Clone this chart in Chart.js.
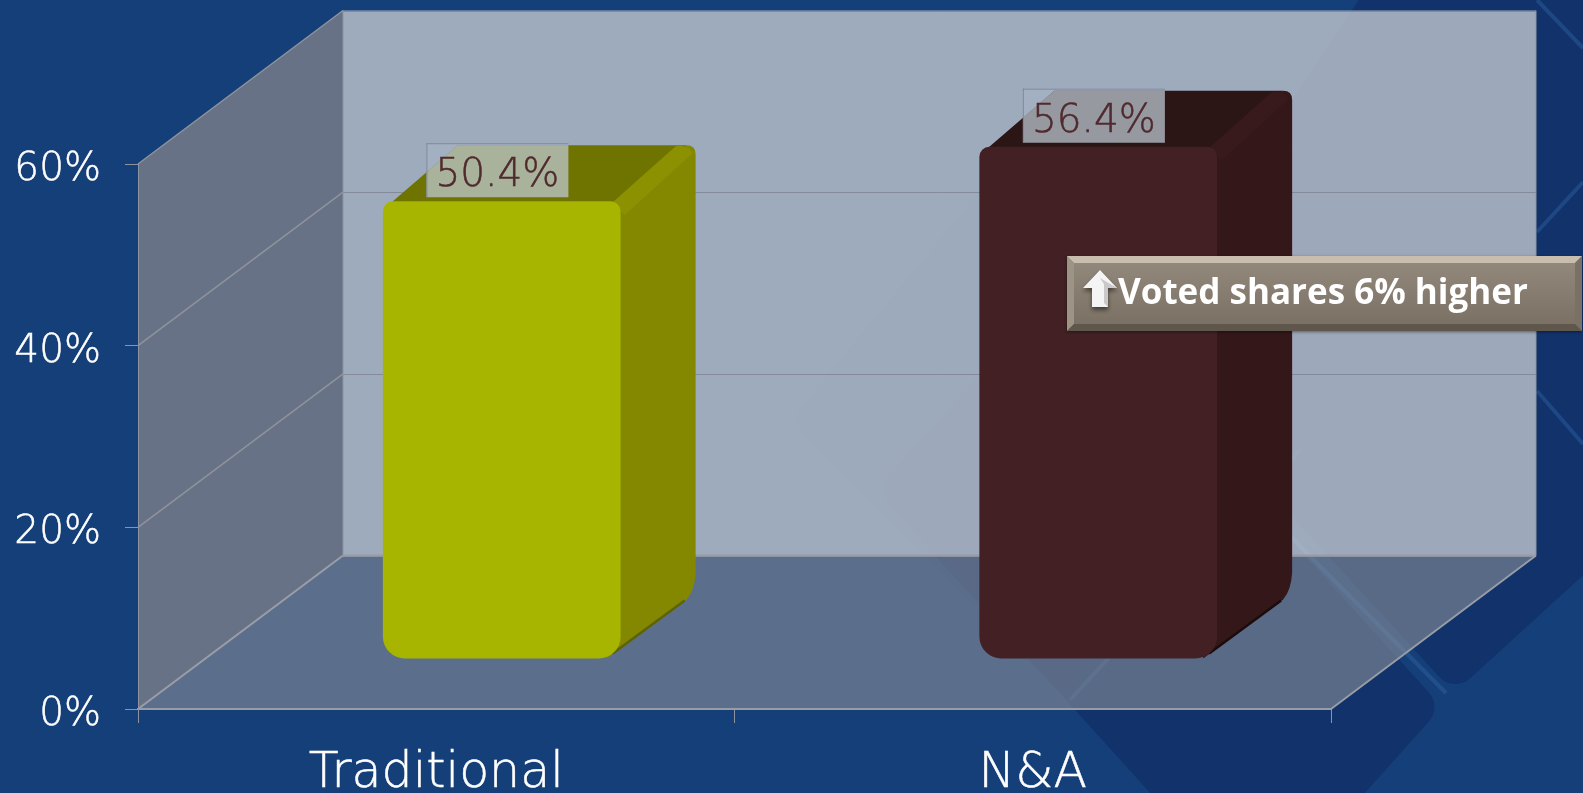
<!DOCTYPE html>
<html>
<head>
<meta charset="utf-8">
<title>Voted shares</title>
<script src="https://cdn.jsdelivr.net/npm/chart.js@4"></script>
<style>
    html, body { margin: 0; padding: 0; background: #153f78; overflow: hidden; }
    #wrap { width: 1583px; height: 793px; }
</style>
</head>
<body>
<div id="wrap"><canvas id="sharesChart" width="1583" height="793"></canvas></div>
<script>
const categories = ['Traditional', 'N&A'];
const votedShares = [50.4, 56.4];
const axisMax = 60;
const axisStep = 20;
const calloutText = 'Voted shares 6% higher';

const frontColors = ['#a7b400', '#422024'];
const sideColors = ['#848800', '#331719'];
const topColors = ['#6f7300', '#2b1515'];
const ridgeColors = ['#8b9100', '#38191c'];
const edgeShadows = ['#5f6200', '#1c0c0d'];

const LABEL_FONT = '"DejaVu Sans"';
const wallDepth = { x: 205, y: -153.5 };   // how far the back wall sits behind the axes
const boxOffset = { x: 65.5, y: -50 };     // bars stand a little way in from the front edge
const boxDepth = { x: 75, y: -56 };

// Traces a polygon with rounded corners
function roundPoly(ctx, pts, r) {
    const n = pts.length;
    ctx.beginPath();
    ctx.moveTo((pts[n - 1][0] + pts[0][0]) / 2, (pts[n - 1][1] + pts[0][1]) / 2);
    for (let i = 0; i < n; i++) {
        const p = pts[i], q = pts[(i + 1) % n];
        ctx.arcTo(p[0], p[1], q[0], q[1], r);
    }
    ctx.closePath();
}

function line(ctx, x1, y1, x2, y2) {
    ctx.beginPath();
    ctx.moveTo(x1, y1);
    ctx.lineTo(x2, y2);
    ctx.stroke();
}

function topFace(ctx, L, R, T) {
    ctx.beginPath();
    ctx.moveTo(L + 3, T + 6);
    ctx.lineTo(L + boxDepth.x, T + boxDepth.y);
    ctx.lineTo(R + boxDepth.x - 9, T + boxDepth.y);
    ctx.lineTo(R, T + 2);
    ctx.closePath();
}

// Slide background pattern plus the walls and floor of the chart box
const boxWalls = {
    id: 'boxWalls',
    beforeDraw(chart) {
        const { ctx, width, height, scales } = chart;
        const { x: xs, y: ys } = scales;
        ctx.save();
        ctx.fillStyle = '#153f78';
        ctx.fillRect(0, 0, width, height);

        ctx.fillStyle = 'rgba(17, 48, 105, 0.85)';
        roundPoly(ctx, [[876, 490], [1258, 912], [1442, 707], [1060, 285]], 22); ctx.fill();
        roundPoly(ctx, [[1454, 693], [1830, 350], [1500, -210], [1130, 340]], 22); ctx.fill();
        ctx.fillStyle = 'rgba(17, 48, 105, 0.35)';
        roundPoly(ctx, [[1060, 694], [1310, 420], [1030, 130], [790, 420]], 20); ctx.fill();

        ctx.lineWidth = 4;
        ctx.strokeStyle = 'rgba(50, 105, 170, 0.4)';
        line(ctx, 1135, 380, 1446, 693);
        line(ctx, 1537, 0, 1583, 48);
        line(ctx, 1537, 232, 1583, 182);
        line(ctx, 1537, 391, 1583, 444);
        ctx.strokeStyle = 'rgba(50, 105, 170, 0.3)';
        line(ctx, 1070, 700, 1300, 450);

        const left = xs.left, right = xs.right;
        const y0 = ys.getPixelForValue(0), yMax = ys.getPixelForValue(axisMax);
        const dx = wallDepth.x, dy = wallDepth.y;

        // back wall
        ctx.fillStyle = 'rgba(192, 199, 206, 0.8)';
        ctx.fillRect(left + dx, yMax + dy, right - left, y0 - yMax);
        // floor
        ctx.fillStyle = 'rgba(139, 143, 153, 0.6)';
        ctx.beginPath();
        ctx.moveTo(left, y0);
        ctx.lineTo(right, y0);
        ctx.lineTo(right + dx, y0 + dy);
        ctx.lineTo(left + dx, y0 + dy);
        ctx.closePath();
        ctx.fill();
        // side wall
        ctx.fillStyle = 'rgba(138, 137, 139, 0.7)';
        ctx.beginPath();
        ctx.moveTo(left, y0);
        ctx.lineTo(left, yMax);
        ctx.lineTo(left + dx, yMax + dy);
        ctx.lineTo(left + dx, y0 + dy);
        ctx.closePath();
        ctx.fill();

        // grid lines run along the side wall and across the back wall
        ys.ticks.forEach(t => {
            const y = ys.getPixelForValue(t.value);
            ctx.strokeStyle = '#8f939b';
            ctx.lineWidth = 1.5;
            line(ctx, left, y, left + dx, y + dy);
            ctx.strokeStyle = '#838a9a';
            ctx.lineWidth = 1;
            const by = Math.round(y + dy) + 0.5;
            line(ctx, left + dx, by, right + dx, by);
        });
        ctx.strokeStyle = '#8d93a0';
        ctx.lineWidth = 1;
        line(ctx, left + dx, yMax + dy, left + dx, y0 + dy);
        line(ctx, right + dx, yMax + dy, right + dx, y0 + dy);
        ctx.lineWidth = 2;
        ctx.strokeStyle = '#979ca6';
        line(ctx, left, y0, left + dx, y0 + dy);
        line(ctx, right, y0, right + dx, y0 + dy);
        line(ctx, left + dx, y0 + dy, right + dx, y0 + dy);
        ctx.restore();
    }
};

// Side and top faces of each bar; the front face is the native bar, moved in from the edge
const barDepth = {
    id: 'barDepth',
    beforeDatasetsDraw(chart) {
        const { ctx } = chart;
        const dx = boxDepth.x, dy = boxDepth.y;
        ctx.save();
        ctx.translate(boxOffset.x, boxOffset.y);
        chart.getDatasetMeta(0).data.forEach((bar, i) => {
            const L = bar.x - bar.width / 2, R = bar.x + bar.width / 2;
            const T = bar.y, B = bar.base;

            // silhouette of the box behind the front face
            ctx.fillStyle = sideColors[i];
            ctx.beginPath();
            ctx.moveTo(R - 14, B);
            ctx.lineTo(R + dx - 9, B - 59);
            ctx.quadraticCurveTo(R + dx - 1, B - 68, R + dx, B - 86);
            ctx.lineTo(R + dx, T + dy + 9);
            ctx.quadraticCurveTo(R + dx, T + dy, R + dx - 9, T + dy);
            ctx.lineTo(R - 10, T);
            ctx.closePath();
            ctx.fill();

            // darker lip along the lower edge
            ctx.strokeStyle = edgeShadows[i];
            ctx.lineWidth = 2.5;
            line(ctx, R - 8, B - 5, R + dx - 11, B - 58);

            ctx.fillStyle = topColors[i];
            topFace(ctx, L, R, T);
            ctx.fill();

            // soft ridge where the top meets the side
            ctx.fillStyle = ridgeColors[i];
            ctx.beginPath();
            ctx.moveTo(R - 8, T + 1);
            ctx.lineTo(R + dx - 20, T + dy + 1);
            ctx.quadraticCurveTo(R + dx - 8, T + dy - 1, R + dx - 3, T + dy + 8);
            ctx.lineTo(R + 4, T + 14);
            ctx.closePath();
            ctx.fill();
        });
    },
    afterDatasetsDraw(chart) {
        const { ctx } = chart;
        ctx.restore();

        // value labels sit on translucent plates; the plate only shows up over the bar top
        ctx.save();
        chart.getDatasetMeta(0).data.forEach((bar, i) => {
            const L = bar.x + boxOffset.x - bar.width / 2, R = L + bar.width;
            const T = bar.y + boxOffset.y;
            const lx = L + 43.5, ly = T - 58;

            ctx.fillStyle = 'rgba(205, 212, 222, 0.12)';
            ctx.fillRect(lx, ly, 142, 54);

            ctx.save();
            ctx.beginPath();
            ctx.rect(lx, ly, 142, 54);
            ctx.clip();
            ctx.fillStyle = 'rgba(190, 200, 210, 0.7)';
            topFace(ctx, L, R, T);
            ctx.fill();
            ctx.restore();

            ctx.strokeStyle = 'rgba(120, 130, 145, 0.8)';
            ctx.lineWidth = 1;
            line(ctx, lx, ly + 0.5, lx + 142, ly + 0.5);
            line(ctx, lx + 0.5, ly, lx + 0.5, ly + 54);

            ctx.fillStyle = '#4f2a2e';
            ctx.strokeStyle = '#4f2a2e';
            ctx.lineWidth = 0.5;
            ctx.font = '200 39px ' + LABEL_FONT;
            ctx.textAlign = 'center';
            ctx.textBaseline = 'middle';
            const label = votedShares[i].toFixed(1) + '%';
            ctx.fillText(label, lx + 71, ly + 33);
            ctx.strokeText(label, lx + 71, ly + 33);
        });
        ctx.restore();
    }
};

// Bevelled callout with its arrow
const callout = {
    id: 'callout',
    afterDraw(chart) {
        const { ctx } = chart;
        const x = 1067, y = 256, w = 515, h = 75, b = 7;
        ctx.save();
        ctx.shadowColor = 'rgba(0, 0, 0, 0.45)';
        ctx.shadowBlur = 3;
        ctx.shadowOffsetY = 1;
        const g = ctx.createLinearGradient(0, y, 0, y + h);
        g.addColorStop(0, '#948a7d');
        g.addColorStop(1, '#796e62');
        ctx.fillStyle = g;
        ctx.fillRect(x, y, w, h);
        ctx.shadowColor = 'transparent';

        // bevel edges
        ctx.fillStyle = '#c9bead';
        ctx.beginPath();
        ctx.moveTo(x, y); ctx.lineTo(x + w, y); ctx.lineTo(x + w - b, y + b); ctx.lineTo(x + b, y + b);
        ctx.closePath(); ctx.fill();
        ctx.fillStyle = '#9e9486';
        ctx.beginPath();
        ctx.moveTo(x, y); ctx.lineTo(x + b, y + b); ctx.lineTo(x + b, y + h - b); ctx.lineTo(x, y + h);
        ctx.closePath(); ctx.fill();
        ctx.fillStyle = '#7a7064';
        ctx.beginPath();
        ctx.moveTo(x + w, y); ctx.lineTo(x + w - b, y + b); ctx.lineTo(x + w - b, y + h - b); ctx.lineTo(x + w, y + h);
        ctx.closePath(); ctx.fill();
        ctx.fillStyle = '#5f564c';
        ctx.beginPath();
        ctx.moveTo(x, y + h); ctx.lineTo(x + b, y + h - b); ctx.lineTo(x + w - b, y + h - b); ctx.lineTo(x + w, y + h);
        ctx.closePath(); ctx.fill();

        // up arrow
        const ax = x + 33, ay = 270;
        ctx.shadowColor = 'rgba(0, 0, 0, 0.5)';
        ctx.shadowBlur = 4;
        ctx.shadowOffsetY = 3;
        ctx.fillStyle = '#f4f4f4';
        ctx.beginPath();
        ctx.moveTo(ax, ay);
        ctx.lineTo(ax + 17, ay + 18);
        ctx.lineTo(ax + 8, ay + 18);
        ctx.lineTo(ax + 8, ay + 37);
        ctx.lineTo(ax - 8, ay + 37);
        ctx.lineTo(ax - 8, ay + 18);
        ctx.lineTo(ax - 17, ay + 18);
        ctx.closePath();
        ctx.fill();
        ctx.shadowColor = 'transparent';
        ctx.fillStyle = '#c9c9c9';
        ctx.beginPath();
        ctx.moveTo(ax, ay + 8);
        ctx.lineTo(ax + 17, ay + 18);
        ctx.lineTo(ax + 8, ay + 18);
        ctx.lineTo(ax + 8, ay + 37);
        ctx.lineTo(ax + 4, ay + 33);
        ctx.lineTo(ax + 4, ay + 14);
        ctx.closePath();
        ctx.fill();

        ctx.fillStyle = '#ffffff';
        ctx.font = 'bold 35px "Open Sans"';
        ctx.textAlign = 'left';
        ctx.textBaseline = 'middle';
        ctx.fillText(calloutText, 1118, 294);
        ctx.restore();
    }
};

new Chart(document.getElementById('sharesChart'), {
    type: 'bar',
    data: {
        labels: categories,
        datasets: [{
            data: votedShares,
            backgroundColor: frontColors,
            borderWidth: 0,
            borderSkipped: false,
            borderRadius: { topLeft: 10, topRight: 10, bottomLeft: 22, bottomRight: 22 },
            barPercentage: 0.3986,
            categoryPercentage: 1,
            clip: false
        }]
    },
    options: {
        responsive: false,
        animation: false,
        layout: { padding: { top: 164, right: 252, left: 0, bottom: 0 } },
        plugins: { legend: { display: false }, tooltip: { enabled: false } },
        scales: {
            x: {
                afterFit(axis) { axis.height = 84; },
                grid: { offset: true, drawOnChartArea: false, tickLength: 14, color: '#8d93a0' },
                border: { color: '#979ca6', width: 2 },
                ticks: {
                    color: '#ffffff',
                    padding: 22,
                    maxRotation: 0,
                    textStrokeColor: '#ffffff',
                    textStrokeWidth: 0.5,
                    font: { family: LABEL_FONT, size: 49, weight: '200' }
                }
            },
            y: {
                min: 0,
                max: axisMax,
                afterFit(axis) { axis.width = 138; },
                grid: { drawOnChartArea: false, tickLength: 13, color: '#8d93a0' },
                border: { color: '#8d93a0', width: 1 },
                ticks: {
                    stepSize: axisStep,
                    color: '#ffffff',
                    padding: 24,
                    textStrokeColor: '#ffffff',
                    textStrokeWidth: 0.5,
                    // empty first line pushes the text down so it sits just under its tick
                    font: { family: LABEL_FONT, size: 39, weight: '200', lineHeight: '12px' },
                    callback: value => ['', value + '%']
                }
            }
        }
    },
    plugins: [boxWalls, barDepth, callout]
});
</script>
</body>
</html>
